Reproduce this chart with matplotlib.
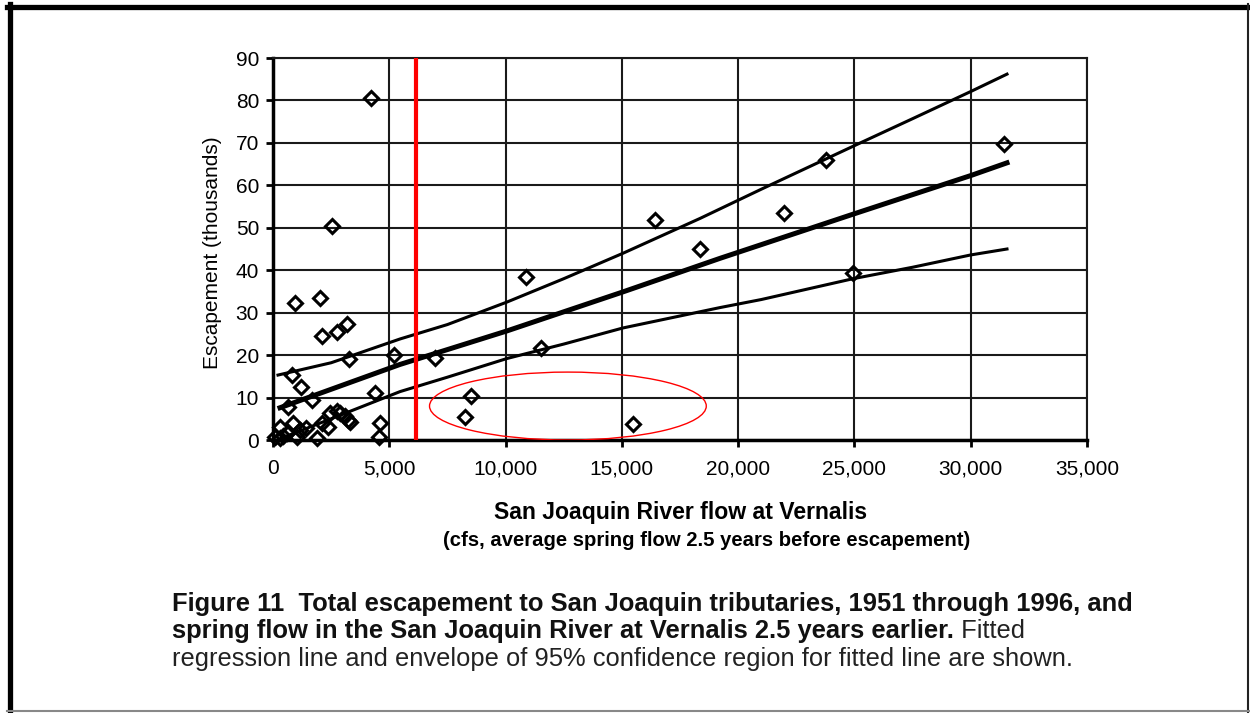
import matplotlib
matplotlib.use('Agg')
import matplotlib.pyplot as plt
from matplotlib.patches import Ellipse
from matplotlib.lines import Line2D
from matplotlib.ticker import FuncFormatter, MultipleLocator

plt.rcParams['font.family'] = ['Liberation Sans', 'DejaVu Sans']

# spring flow at Vernalis (cfs) and escapement (thousands)
flow = [4210, 10880, 16420, 18360, 21970, 23770, 24940, 31430, 11520, 6960,
        5200, 8250, 8510, 15480,
        2540, 950, 2020, 2110, 2750, 3180, 3270, 820, 1200, 1680, 640,
        4390, 4600, 4560,
        300, 860, 600, 300, 1030, 1890, 2110, 2450, 2880, 3220, 2750,
        1420, 2360, 90, 430, 1160, 3100, 3310]
escapement = [80.6, 38.4, 51.8, 45.0, 53.5, 66.0, 39.3, 69.7, 21.7, 19.3,
              20.0, 5.4, 10.4, 3.8,
              50.4, 32.3, 33.5, 24.5, 25.4, 27.3, 19.1, 15.3, 12.5, 9.4, 7.8,
              11.1, 4.0, 0.7,
              3.1, 4.0, 1.6, 0.5, 0.7, 0.5, 4.0, 6.4, 6.4, 4.7, 6.8,
              2.8, 3.1, 0.7, 0.9, 2.4, 5.7, 4.2]

# fitted regression line and 95% envelope
fit_x = [300, 5460, 10060, 15050, 19220, 24940, 30000, 31560]
fit_y = [7.6, 17.8, 25.7, 34.9, 42.8, 53.2, 62.3, 65.3]
upper_x = [215, 2500, 5460, 7500, 10060, 12500, 15050, 18360, 21000, 24940, 27500, 30000, 31560]
upper_y = [15.3, 18.2, 23.8, 27.2, 32.5, 38.0, 44.0, 52.2, 59.1, 69.2, 75.7, 82.1, 86.2]
lower_x = [300, 2500, 5460, 7500, 10060, 12500, 15050, 19220, 21000, 24940, 27500, 30000, 31560]
lower_y = [0.3, 5.0, 11.4, 14.8, 19.2, 22.6, 26.4, 31.2, 33.1, 38.0, 40.7, 43.6, 45.0]

red_line_flow = 6150

W, H = 1250, 713
fig = plt.figure(figsize=(12.5, 7.13), dpi=100)
ax = fig.add_axes([273 / W, 1 - 440 / H, (1087 - 273) / W, (440 - 58) / H])

ax.set_xlim(0, 35000)
ax.set_ylim(0, 90)
ax.xaxis.set_major_locator(MultipleLocator(5000))
ax.yaxis.set_major_locator(MultipleLocator(10))
ax.xaxis.set_major_formatter(FuncFormatter(lambda v, p: '{:,.0f}'.format(v)))
ax.grid(True, color='#1a1a1a', lw=1.5)
ax.set_axisbelow(True)
for side in ['top', 'right']:
    ax.spines[side].set_linewidth(1.5)
    ax.spines[side].set_color('#1a1a1a')
for side in ['left', 'bottom']:
    ax.spines[side].set_linewidth(2.5)
ax.tick_params(direction='out', length=5, width=2, labelsize=15, colors='black')
ax.tick_params(axis='x', pad=9)
ax.tick_params(axis='y', pad=5)

ax.plot(upper_x, upper_y, color='black', lw=2.2, zorder=3)
ax.plot(fit_x, fit_y, color='black', lw=3.6, zorder=3)
ax.plot(lower_x, lower_y, color='black', lw=2.2, zorder=3)
ax.plot(flow, escapement, 'D', ms=7.3, mfc='none', mec='black', mew=2.2,
        zorder=4, clip_on=False)

ax.axvline(red_line_flow, color='red', lw=3, zorder=5)
ax.add_patch(Ellipse((12680, 8.0), 11900, 16.0, fill=False, ec='red', lw=1, zorder=5))

# axis titles
fig.text(212 / W, 1 - 253 / H, 'Escapement (thousands)', rotation=90,
         ha='center', va='center', fontsize=15)
fig.text(681 / W, 1 - 519 / H, 'San Joaquin River flow at Vernalis',
         ha='center', va='baseline', fontsize=16.6, fontweight='bold')
fig.text(707 / W, 1 - 546 / H, '(cfs, average spring flow 2.5 years before escapement)',
         ha='center', va='baseline', fontsize=14.6, fontweight='bold')

# caption
cap_x = 172 / W
cap_fs = 18.4
fig.text(cap_x, 1 - 611 / H,
         'Figure 11  Total escapement to San Joaquin tributaries, 1951 through 1996, and',
         ha='left', va='baseline', fontsize=cap_fs, fontweight='bold', color='#111111')
bold_part = fig.text(cap_x, 1 - 638 / H,
                     'spring flow in the San Joaquin River at Vernalis 2.5 years earlier.',
                     ha='left', va='baseline', fontsize=cap_fs, fontweight='bold', color='#111111')
renderer = fig.canvas.get_renderer()
bb = bold_part.get_window_extent(renderer)
fig.text(bb.x1 / W, 1 - 638 / H, ' Fitted', ha='left', va='baseline',
         fontsize=cap_fs, color='#222222')
fig.text(cap_x, 1 - 666 / H,
         'regression line and envelope of 95% confidence region for fitted line are shown.',
         ha='left', va='baseline', fontsize=cap_fs, color='#222222')

# page border
fig.add_artist(Line2D([7 / W, 1249 / W], [1 - 6.5 / H, 1 - 6.5 / H], color='black', lw=3.8))
fig.add_artist(Line2D([9.5 / W, 9.5 / W], [1 - 4 / H, 1 - 712 / H], color='black', lw=3.8))
fig.add_artist(Line2D([1248 / W, 1248 / W], [1 - 4 / H, 1 - 712 / H], color='#222222', lw=1.5))
fig.add_artist(Line2D([7 / W, 1249 / W], [1 - 711 / H, 1 - 711 / H], color='#888888', lw=1.5))

fig.savefig('out.png', dpi=100)
